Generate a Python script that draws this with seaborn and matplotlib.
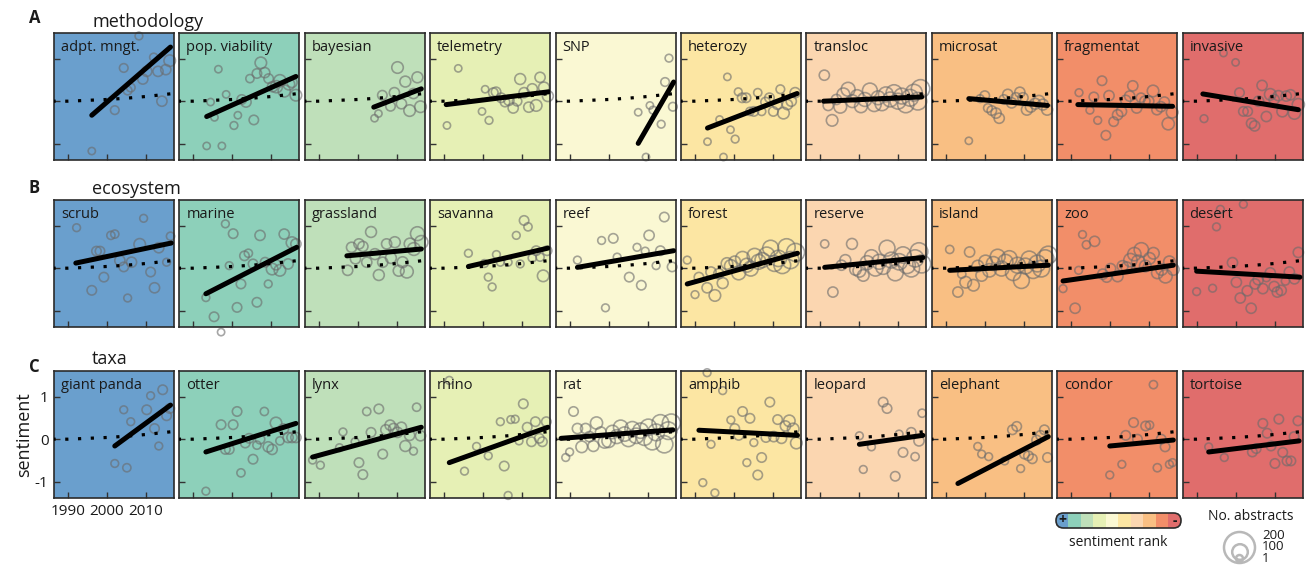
import numpy as np
import pandas as pd
import matplotlib
matplotlib.use("Agg")
import matplotlib.pyplot as plt
import seaborn as sns
from matplotlib.colors import ListedColormap
from matplotlib.patches import FancyBboxPatch, Circle

# ---- data: (year, sentiment, no. abstracts) ----
rank_colors = ["#6A9FCD", "#8DD0BA", "#BFE0BA", "#E6F0B5", "#FAF8D3",
               "#FCE6A3", "#FBD6B0", "#F9BF83", "#F28E69", "#E06D6C"]

row_titles = ["methodology", "ecosystem", "taxa"]
row_letters = ["A", "B", "C"]

methodology_terms = ["adpt. mngt.", "pop. viability", "bayesian", "telemetry", "SNP",
                     "heterozy", "transloc", "microsat", "fragmentat", "invasive"]
ecosystem_terms = ["scrub", "marine", "grassland", "savanna", "reef",
                   "forest", "reserve", "island", "zoo", "desert"]
taxa_terms = ["giant panda", "otter", "lynx", "rhino", "rat",
              "amphib", "leopard", "elephant", "condor", "tortoise"]

# overall trend (dotted)
global_years = [1986, 1990, 1995, 2000, 2005, 2010, 2015, 2018]
global_sent = [0.0, 0.0, 0.02, 0.04, 0.07, 0.11, 0.16, 0.19]

# per-term fitted trend (start year, end year, start value, end value)
methodology_trend_x0 = [1996.1, 1993.4, 2004.1, 1990.5, 2007.6, 1993.2, 1990.8, 1995.9, 1991.7, 1991.6]
methodology_trend_x1 = [2016.3, 2016.3, 2016.3, 2016.8, 2016.7, 2016.2, 2016.0, 2016.1, 2016.0, 2016.1]
methodology_trend_y0 = [-0.33, -0.36, -0.14, -0.08, -0.99, -0.63, 0.0, 0.06, -0.08, 0.17]
methodology_trend_y1 = [1.27, 0.58, 0.29, 0.22, 0.45, 0.18, 0.10, -0.10, -0.12, -0.20]

ecosystem_trend_x0 = [1992.0, 1993.2, 1997.2, 1996.2, 1992.0, 1988.0, 1991.1, 1991.0, 1987.9, 1990.0]
ecosystem_trend_x1 = [2016.5, 2016.5, 2016.3, 2016.6, 2016.7, 2016.3, 2016.3, 2016.3, 2016.2, 2016.5]
ecosystem_trend_y0 = [0.12, -0.60, 0.29, 0.04, 0.02, -0.37, 0.02, -0.05, -0.30, -0.07]
ecosystem_trend_y1 = [0.59, 0.49, 0.45, 0.47, 0.41, 0.35, 0.25, 0.07, 0.07, -0.21]

taxa_trend_x0 = [2002.0, 1993.2, 1988.4, 1991.3, 1987.8, 1991.0, 2000.0, 1993.1, 1999.9, 1993.1]
taxa_trend_x1 = [2016.3, 2016.3, 2016.3, 2016.6, 2016.5, 2016.3, 2016.3, 2016.3, 2016.2, 2016.3]
taxa_trend_y0 = [-0.16, -0.30, -0.42, -0.55, 0.02, 0.21, -0.12, -1.04, -0.16, -0.30]
taxa_trend_y1 = [0.80, 0.37, 0.28, 0.28, 0.22, 0.09, 0.09, 0.06, -0.02, -0.04]

adpt_mngt = [(1996.1, -1.17, 5), (2002.0, -0.21, 20), (2004.3, 0.78, 20), (2005.3, 0.25, 20),
             (2006.1, 0.32, 20), (2008.2, 1.53, 10), (2009.2, 0.52, 40), (2010.2, 0.70, 40),
             (2012.0, 1.03, 15), (2013.1, 0.70, 40), (2014.1, 0.0, 40), (2015.1, 0.74, 40),
             (2016.1, 0.95, 60)]
pop_viability = [(1993.4, -1.05, 5), (1994.4, -0.02, 5), (1995.4, -0.38, 5), (1996.4, 0.75, 5),
                 (1997.3, -1.05, 5), (1998.4, 0.16, 5), (2000.4, -0.57, 10), (2001.4, -0.33, 5),
                 (2002.4, 0.04, 30), (2003.5, -0.02, 40), (2004.5, 0.53, 15), (2005.5, -0.44, 30),
                 (2006.3, 0.65, 30), (2007.3, 0.90, 60), (2008.3, 0.67, 40), (2009.3, 0.53, 30),
                 (2010.3, 0.34, 40), (2011.3, 0.34, 70), (2012.2, 0.48, 70), (2013.3, 0.24, 70),
                 (2014.5, 0.40, 60), (2015.3, 0.44, 40), (2016.3, 0.14, 60)]
bayesian = [(2004.3, -0.40, 5), (2005.3, -0.29, 5), (2006.3, 0.14, 30), (2008.4, -0.12, 30),
            (2009.4, 0.20, 40), (2010.2, 0.79, 60), (2011.2, -0.06, 40), (2012.2, 0.46, 50),
            (2013.3, -0.22, 60), (2014.3, 0.18, 40), (2015.3, 0.56, 50), (2016.1, -0.13, 60)]
telemetry = [(1990.7, -0.57, 5), (1993.6, 0.77, 5), (1999.7, -0.24, 5), (2000.5, 0.28, 5),
             (2001.5, -0.45, 10), (2002.6, 0.20, 30), (2003.3, 0.22, 30), (2004.6, 0.08, 30),
             (2005.6, -0.02, 30), (2006.6, 0.02, 40), (2007.7, -0.16, 40), (2008.7, 0.0, 30),
             (2009.5, 0.52, 50), (2010.5, 0.20, 40), (2011.7, -0.14, 40), (2012.6, 0.29, 40),
             (2013.6, -0.10, 60), (2014.6, 0.56, 40), (2015.6, 0.32, 50), (2016.6, 0.12, 50)]
snp = [(2007.6, -0.26, 5), (2009.6, -1.31, 5), (2010.6, -0.10, 5), (2011.4, -0.21, 10),
       (2013.5, -0.54, 10), (2014.5, 0.45, 20), (2015.5, 1.01, 10), (2016.5, -0.13, 20)]
heterozy = [(1993.2, -0.95, 5), (1996.3, -0.43, 5), (1997.3, -1.31, 5), (1998.3, 0.57, 5),
            (1999.1, -0.67, 5), (2000.3, -0.89, 10), (2001.1, 0.22, 10), (2002.1, 0.08, 30),
            (2003.1, 0.08, 30), (2004.1, -0.24, 15), (2005.1, -0.24, 30), (2006.1, 0.20, 15),
            (2007.1, -0.24, 15), (2008.1, -0.02, 30), (2009.1, 0.08, 30), (2010.1, -0.24, 30),
            (2011.1, -0.08, 30), (2011.9, 0.28, 20), (2012.7, -0.28, 60), (2013.7, -0.08, 40),
            (2014.7, 0.0, 40), (2015.7, 0.20, 40)]
transloc = [(1991.0, 0.61, 40), (1992.0, -0.10, 40), (1993.0, -0.45, 60), (1994.1, 0.04, 40),
            (1995.1, -0.13, 80), (1995.9, 0.16, 80), (1997.1, 0.28, 100), (1998.2, 0.0, 80),
            (1999.4, 0.12, 80), (2000.4, -0.12, 80), (2001.4, 0.04, 100), (2002.7, 0.25, 120),
            (2003.8, -0.08, 100), (2004.8, 0.08, 100), (2005.8, -0.06, 100), (2006.8, 0.16, 120),
            (2007.9, 0.04, 120), (2008.9, 0.20, 140), (2009.9, 0.0, 140), (2010.9, 0.12, 140),
            (2011.9, -0.08, 150), (2013.0, 0.08, 160), (2014.0, 0.20, 160), (2015.0, 0.0, 180),
            (2015.7, 0.29, 200)]
microsat = [(1995.9, -0.93, 5), (1998.8, 0.06, 10), (2000.0, 0.13, 30), (2000.8, -0.16, 20),
            (2001.8, -0.22, 30), (2002.9, -0.28, 40), (2003.7, -0.40, 40), (2004.9, 0.04, 30),
            (2005.9, 0.16, 40), (2006.9, -0.04, 40), (2008.0, 0.08, 40), (2009.0, 0.21, 40),
            (2009.8, 0.08, 40), (2010.8, -0.20, 50), (2011.8, -0.13, 50), (2012.9, -0.06, 50),
            (2013.9, 0.0, 60), (2014.9, -0.08, 50), (2016.0, -0.20, 50)]
fragmentat = [(1992.0, 0.20, 10), (1994.8, -0.21, 10), (1995.8, 0.10, 30), (1996.8, -0.45, 10),
              (1997.9, 0.48, 30), (1998.9, -0.80, 30), (1999.7, 0.13, 40), (2000.9, -0.48, 30),
              (2001.9, -0.32, 40), (2002.9, -0.24, 40), (2004.0, 0.02, 40), (2005.0, 0.12, 40),
              (2005.8, 0.36, 40), (2006.8, -0.16, 40), (2007.9, 0.08, 30), (2008.9, 0.0, 40),
              (2009.9, 0.0, 40), (2011.0, 0.24, 60), (2012.0, -0.20, 40), (2013.0, -0.13, 40),
              (2013.9, -0.02, 40), (2014.9, -0.53, 70), (2015.9, -0.26, 60)]
invasive = [(1991.9, -0.41, 10), (1996.9, 1.13, 5), (2000.0, 0.91, 5), (2001.0, 0.20, 30),
            (2002.0, -0.24, 30), (2003.1, -0.24, 30), (2004.1, -0.52, 40), (2004.9, -0.58, 40),
            (2005.9, 0.0, 40), (2006.8, 0.37, 40), (2007.9, -0.36, 40), (2008.9, 0.16, 60),
            (2009.9, 0.04, 40), (2011.0, 0.13, 40), (2012.0, -0.24, 50), (2013.0, 0.12, 40),
            (2014.1, 0.15, 40), (2015.1, -0.28, 70), (2016.1, -0.08, 70)]

scrub = [(1992.2, 0.95, 10), (1996.1, -0.52, 30), (1997.3, 0.40, 30), (1998.2, 0.40, 30),
         (1999.2, -0.21, 30), (2001.0, 0.77, 15), (2002.0, 0.80, 15), (2003.3, 0.18, 40),
         (2004.3, 0.03, 30), (2005.3, -0.70, 10), (2006.3, 0.14, 40), (2008.4, 0.56, 60),
         (2009.4, 1.17, 10), (2011.2, -0.09, 30), (2012.2, -0.46, 40), (2013.3, 0.48, 40),
         (2015.3, 0.14, 10), (2016.3, 0.75, 15)]
marine = [(1993.2, -0.69, 10), (1995.3, -1.14, 30), (1997.1, -1.50, 5), (1998.2, 1.04, 10),
          (1999.2, 0.06, 10), (2000.2, 0.81, 30), (2001.2, -0.92, 30), (2002.2, -0.37, 30),
          (2003.1, 0.29, 30), (2004.1, 0.35, 15), (2005.3, 0.10, 30), (2006.3, -0.80, 30),
          (2007.1, 0.77, 40), (2008.4, 0.14, 30), (2009.2, -0.37, 10), (2010.2, -0.02, 60),
          (2011.2, 0.08, 40), (2012.2, -0.05, 60), (2013.3, 0.80, 40), (2014.3, 0.10, 40),
          (2015.3, 0.60, 60), (2016.3, 0.57, 40)]
grassland = [(1997.4, -0.05, 40), (1998.4, 0.49, 40), (1999.4, 0.22, 40), (2000.3, 0.57, 40),
             (2001.3, 0.51, 40), (2002.3, 0.14, 40), (2003.4, 0.85, 50), (2004.4, 0.33, 50),
             (2005.4, -0.16, 50), (2006.4, 0.14, 40), (2007.4, 0.57, 40), (2008.5, 0.24, 50),
             (2009.5, 0.61, 50), (2010.5, -0.06, 50), (2011.5, 0.14, 50), (2012.6, -0.08, 80),
             (2013.4, 0.57, 60), (2014.4, 0.45, 80), (2015.3, 0.81, 100), (2016.3, 0.61, 90)]
savanna = [(1996.2, 0.35, 10), (2000.3, 0.11, 10), (2001.3, -0.21, 10), (2002.3, -0.44, 10),
           (2003.4, 0.32, 10), (2004.4, 0.14, 10), (2006.4, 0.14, 10), (2008.5, 0.77, 10),
           (2009.5, 0.10, 10), (2010.5, 1.12, 30), (2011.5, 0.97, 15), (2012.6, 0.24, 15),
           (2013.6, 0.41, 30), (2014.6, 0.26, 15), (2015.4, -0.18, 60), (2016.4, 0.41, 30)]
reef = [(1992.0, 0.19, 10), (1998.2, 0.65, 10), (1999.2, -0.93, 10), (2001.2, 0.70, 30),
        (2002.2, 0.26, 10), (2005.3, -0.21, 30), (2007.3, 0.49, 10), (2008.4, -0.40, 30),
        (2009.4, 0.40, 10), (2010.4, 0.77, 40), (2012.2, 0.06, 10), (2013.3, 0.41, 30),
        (2014.3, 1.20, 30), (2016.3, 0.03, 30)]
forest = [(1988.0, 0.19, 10), (1990.0, -0.62, 10), (1991.0, -0.21, 30), (1993.1, -0.46, 40),
          (1994.1, -0.09, 40), (1995.1, -0.64, 60), (1996.1, -0.13, 40), (1997.1, -0.35, 50),
          (1998.2, 0.11, 60), (1999.2, 0.05, 80), (2000.2, 0.15, 60), (2001.2, -0.11, 100),
          (2002.2, 0.23, 100), (2003.3, 0.07, 100), (2004.3, -0.01, 120), (2005.3, 0.29, 120),
          (2006.3, 0.15, 120), (2007.3, 0.19, 120), (2008.4, 0.31, 140), (2009.4, 0.47, 140),
          (2010.4, 0.11, 140), (2011.4, 0.23, 150), (2012.4, 0.07, 160), (2013.5, 0.49, 170),
          (2014.5, 0.19, 170), (2015.8, 0.37, 190)]
reserve = [(1991.1, 0.57, 15), (1993.2, -0.56, 40), (1995.4, 0.07, 40), (1996.4, 0.19, 50),
           (1998.1, 0.57, 50), (1999.0, -0.03, 60), (2000.0, -0.06, 80), (2001.0, -0.17, 60),
           (2002.0, 0.13, 100), (2003.1, 0.27, 100), (2004.1, -0.01, 120), (2005.1, 0.15, 120),
           (2006.1, 0.03, 120), (2007.1, 0.47, 140), (2008.2, 0.19, 140), (2009.2, -0.11, 140),
           (2010.2, 0.15, 150), (2011.2, 0.31, 150), (2012.2, 0.07, 160), (2013.3, -0.01, 160),
           (2014.3, 0.23, 170), (2015.3, 0.39, 180), (2016.0, 0.10, 190)]
island = [(1991.0, 0.44, 15), (1993.1, -0.56, 40), (1994.1, -0.14, 15), (1995.1, -0.33, 60),
          (1996.1, 0.38, 40), (1997.1, -0.40, 60), (1998.2, 0.05, 60), (1999.2, -0.17, 60),
          (2000.2, 0.15, 90), (2001.2, -0.05, 90), (2002.2, 0.11, 100), (2003.3, 0.27, 120),
          (2004.3, -0.01, 120), (2005.3, 0.15, 120), (2006.3, 0.23, 130), (2007.3, -0.11, 130),
          (2008.4, 0.07, 140), (2009.4, -0.29, 140), (2010.4, 0.05, 140), (2011.4, 0.21, 150),
          (2012.4, -0.05, 150), (2013.5, 0.11, 160), (2014.5, -0.01, 160), (2015.5, 0.23, 170),
          (2016.3, 0.31, 180)]
zoo = [(1987.9, -0.48, 10), (1991.0, -0.94, 40), (1991.9, -0.05, 10), (1992.9, 0.79, 10),
       (1993.9, 0.55, 15), (1996.0, 0.63, 40), (1998.1, -0.14, 40), (1999.1, -0.21, 40),
       (2000.1, -0.01, 40), (2001.9, -0.19, 50), (2003.2, 0.05, 50), (2004.2, 0.02, 50),
       (2005.2, 0.19, 90), (2006.2, 0.33, 90), (2007.2, 0.15, 90), (2008.0, 0.43, 110),
       (2009.0, 0.05, 60), (2010.1, 0.23, 60), (2011.1, 0.35, 60), (2012.1, -0.11, 60),
       (2013.2, -0.03, 60), (2014.2, -0.19, 90), (2015.2, 0.15, 60), (2016.2, -0.03, 60)]
desert = [(1990.0, -0.55, 10), (1994.1, -0.47, 10), (1995.1, 0.97, 10), (1996.1, 1.38, 10),
          (1999.2, 0.13, 40), (2000.2, -0.33, 40), (2001.2, -0.70, 40), (2002.0, 1.50, 10),
          (2003.0, -0.53, 40), (2004.0, -0.94, 40), (2005.0, -0.37, 40), (2005.8, -0.27, 40),
          (2007.0, -0.48, 40), (2007.9, -0.22, 15), (2008.9, -0.11, 40), (2009.9, -0.43, 40),
          (2010.7, -0.56, 40), (2011.7, -0.52, 40), (2012.8, -0.30, 15), (2013.8, -0.09, 40),
          (2015.1, -0.25, 40), (2016.1, 0.37, 40)]

giant_panda = [(2002.0, -0.57, 10), (2004.3, 0.69, 10), (2005.1, -0.67, 15), (2006.1, 0.41, 10),
               (2010.2, 0.69, 30), (2011.2, 1.02, 10), (2012.2, 0.25, 30), (2013.3, -0.16, 10),
               (2014.3, 1.16, 30), (2015.3, 0.55, 30), (2016.1, 0.72, 30)]
otter = [(1993.2, -1.22, 10), (1997.1, 0.34, 30), (1998.2, -0.24, 30), (1999.2, -0.24, 30),
         (2000.2, 0.34, 30), (2001.2, 0.65, 30), (2002.2, -0.79, 15), (2003.3, -0.09, 30),
         (2004.3, 0.02, 30), (2005.3, -0.47, 30), (2006.3, -0.14, 15), (2007.1, 0.0, 30),
         (2008.2, 0.65, 15), (2009.2, -0.18, 40), (2010.2, -0.24, 40), (2011.2, 0.38, 60),
         (2012.2, -0.04, 15), (2013.1, 0.24, 40), (2014.3, 0.04, 40), (2015.3, 0.04, 40),
         (2016.3, 0.04, 40)]
lynx = [(1988.4, -0.49, 10), (1990.4, -0.61, 10), (1995.3, -0.20, 10), (1996.2, 0.17, 10),
        (1999.3, -0.06, 10), (2000.3, -0.55, 30), (2001.3, -0.83, 30), (2002.3, 0.65, 15),
        (2003.4, 0.16, 30), (2005.4, 0.71, 30), (2006.4, -0.35, 30), (2007.2, 0.22, 40),
        (2008.3, 0.33, 40), (2009.2, 0.25, 40), (2010.2, 0.16, 40), (2011.2, 0.28, 40),
        (2012.2, -0.16, 50), (2013.3, 0.09, 40), (2014.3, -0.28, 10), (2015.1, 0.75, 15),
        (2016.1, 0.08, 40)]
rhino = [(1991.3, 1.38, 10), (1995.2, -0.75, 10), (1998.3, -0.17, 10), (2001.3, -0.39, 10),
         (2004.4, 0.41, 10), (2005.4, -0.63, 30), (2006.4, -1.32, 10), (2007.1, 0.46, 10),
         (2008.2, 0.47, 10), (2009.2, -0.04, 10), (2010.3, 0.83, 30), (2011.3, 0.28, 30),
         (2012.4, -0.06, 30), (2013.4, 0.41, 30), (2014.4, 0.02, 30), (2015.2, -0.06, 30),
         (2016.2, 0.41, 30)]
rat = [(1989.0, -0.43, 10), (1990.0, -0.30, 10), (1991.0, 0.65, 30), (1992.0, 0.25, 40),
       (1993.1, -0.18, 60), (1994.1, 0.25, 40), (1995.1, 0.06, 40), (1996.1, -0.16, 50),
       (1996.9, 0.38, 70), (1998.0, 0.16, 50), (1999.0, -0.06, 80), (2000.0, -0.04, 90),
       (2001.0, 0.17, 90), (2002.1, 0.06, 100), (2003.1, 0.28, 110), (2004.1, 0.12, 110),
       (2005.1, 0.0, 120), (2006.1, 0.24, 120), (2007.1, 0.08, 130), (2008.2, 0.20, 130),
       (2009.2, 0.04, 140), (2010.2, 0.28, 150), (2011.2, -0.06, 150), (2012.2, 0.16, 160),
       (2013.3, 0.38, 160), (2014.3, -0.12, 170), (2015.3, 0.20, 180), (2016.1, 0.38, 190)]
amphib = [(1992.0, -1.02, 10), (1993.1, 1.56, 10), (1994.1, -0.12, 10), (1995.1, -1.26, 10),
          (1997.1, 1.14, 10), (1999.2, 0.45, 10), (2000.2, 0.25, 30), (2001.2, 0.09, 30),
          (2002.2, 0.65, 30), (2003.3, -0.55, 10), (2004.1, 0.49, 30), (2005.1, -0.08, 10),
          (2006.1, -0.84, 30), (2007.1, -0.43, 30), (2008.2, 0.04, 30), (2009.2, 0.87, 30),
          (2010.2, 0.06, 40), (2011.2, 0.46, 30), (2012.2, 0.02, 40), (2013.2, 0.31, 40),
          (2014.2, 0.43, 60), (2015.2, 0.24, 60), (2016.0, -0.09, 60)]
leopard = [(2000.0, 0.08, 10), (2001.0, -0.71, 10), (2003.1, -0.18, 10), (2006.1, 0.87, 30),
           (2007.1, 0.72, 30), (2009.2, -0.87, 30), (2010.2, 0.12, 10), (2011.2, -0.31, 30),
           (2013.3, 0.16, 30), (2014.3, -0.41, 15), (2015.3, -0.04, 40), (2016.1, 0.61, 15)]
elephant = [(1998.2, -0.17, 10), (1999.2, -0.35, 10), (2001.0, -0.41, 10), (2005.1, -0.51, 10),
            (2007.1, 0.22, 30), (2008.2, 0.30, 30), (2009.2, -0.69, 10), (2010.2, -0.35, 30),
            (2011.2, -0.39, 30), (2012.2, -0.46, 30), (2013.3, -0.02, 30), (2014.3, 0.09, 30),
            (2015.3, 0.22, 30), (2016.1, -0.43, 30)]
condor = [(1999.9, -0.84, 10), (2003.0, -0.59, 10), (2004.0, 0.09, 30), (2006.0, 0.39, 30),
          (2007.0, 0.0, 30), (2009.1, 0.31, 30), (2010.1, 0.33, 15), (2011.1, 1.28, 15),
          (2012.1, -0.67, 15), (2013.1, 0.0, 30), (2014.1, -0.18, 30), (2015.2, -0.59, 10),
          (2016.0, -0.55, 10)]
tortoise = [(1993.1, -0.18, 10), (1997.1, -0.43, 10), (2004.3, -0.30, 30), (2005.3, -0.22, 30),
            (2007.0, 0.37, 30), (2008.1, 0.14, 30), (2009.1, -0.16, 30), (2010.1, -0.57, 30),
            (2011.1, 0.47, 30), (2012.1, -0.31, 30), (2013.2, -0.51, 30), (2014.2, -0.51, 30),
            (2015.0, 0.06, 30), (2016.0, 0.43, 30)]

# ---- tables built from the lists above ----
row_points = [
    [adpt_mngt, pop_viability, bayesian, telemetry, snp,
     heterozy, transloc, microsat, fragmentat, invasive],
    [scrub, marine, grassland, savanna, reef, forest, reserve, island, zoo, desert],
    [giant_panda, otter, lynx, rhino, rat, amphib, leopard, elephant, condor, tortoise],
]
row_terms = [methodology_terms, ecosystem_terms, taxa_terms]
row_trends = [
    (methodology_trend_x0, methodology_trend_x1, methodology_trend_y0, methodology_trend_y1),
    (ecosystem_trend_x0, ecosystem_trend_x1, ecosystem_trend_y0, ecosystem_trend_y1),
    (taxa_trend_x0, taxa_trend_x1, taxa_trend_y0, taxa_trend_y1),
]

records = []
for r, panels in enumerate(row_points):
    for c, pts in enumerate(panels):
        for yr, s, n in pts:
            records.append({"row": r, "col": c, "year": yr, "sentiment": s, "n": n})
df = pd.DataFrame(records)
global_df = pd.DataFrame({"year": global_years, "sentiment": global_sent})

# ---- figure ----
sns.set_theme(style="white")
plt.rcParams['font.family'] = ['Open Sans', 'DejaVu Sans']
plt.rcParams['axes.unicode_minus'] = False

W, H = 1306, 565
fig = plt.figure(figsize=(W / 100, H / 100), dpi=100)

row_top = [33, 200, 371]
panel_w, panel_h = 120, 127
col_step = 125.4
left0 = 54

for r in range(3):
    tx0, tx1, ty0, ty1 = row_trends[r]
    for c in range(10):
        left = left0 + col_step * c
        ax = fig.add_axes([left / W, 1 - (row_top[r] + panel_h) / H, panel_w / W, panel_h / H])
        ax.set_facecolor(rank_colors[c])
        sub = df[(df["row"] == r) & (df["col"] == c)]

        sns.scatterplot(data=sub, x="year", y="sentiment", size="n", sizes=(24, 175),
                        size_norm=(1, 200), facecolor="none",
                        edgecolor=(0.42, 0.42, 0.42, 0.6), linewidth=1.2,
                        legend=False, ax=ax, clip_on=False, zorder=2)
        sns.lineplot(data=global_df, x="year", y="sentiment", color="black", lw=2.3,
                     dashes=False, ax=ax, zorder=3).lines[-1].set_dashes([1, 3])
        ax.plot([tx0[c], tx1[c]], [ty0[c], ty1[c]], color="black", lw=3.6,
                solid_capstyle="round", zorder=4)

        ax.set_xlim(1986.4, 2017.2)
        ax.set_ylim(-1.38, 1.6)
        ax.set_xticks([1990, 2000, 2010])
        ax.set_yticks([-1, 0, 1])
        ax.set_xlabel("")
        ax.set_ylabel("")
        first = (r == 2 and c == 0)
        ax.tick_params(direction="in", length=4, width=1, color="#333333",
                       labelsize=11, labelcolor="#1a1a1a", pad=4,
                       labelbottom=first, labelleft=first,
                       bottom=True, left=True)
        for sp in ax.spines.values():
            sp.set_color("#2b2b2b")
            sp.set_linewidth(1.2)
        ax.text(0.058, 0.945, row_terms[r][c], transform=ax.transAxes,
                ha="left", va="top", fontsize=10.5, color="#1a1a1a", zorder=5)
        if first:
            ax.set_ylabel("sentiment", fontsize=13, labelpad=1, color="#1a1a1a")

# ---- overlay in pixel units for titles and legends ----
ov = fig.add_axes([0, 0, 1, 1], zorder=10)
ov.set_xlim(0, W)
ov.set_ylim(H, 0)
ov.axis("off")

title_base = [27, 194, 364]
letter_base = [23, 193, 372]
for r in range(3):
    ov.text(92, title_base[r], row_titles[r], fontsize=13, va="baseline", ha="left",
            color="#1a1a1a")
    ov.text(29, letter_base[r], row_letters[r], fontsize=12, fontweight="bold",
            va="baseline", ha="left", color="#1a1a1a")

# sentiment rank bar
bx0, by0, bw, bh = 1056, 513, 125, 15
box = FancyBboxPatch((bx0, by0), bw, bh, boxstyle="round,pad=0,rounding_size=7.5",
                     facecolor="none", edgecolor="#2b2b2b", lw=1.2, zorder=3)
ov.add_patch(box)
im = ov.imshow(np.arange(10)[None, :], cmap=ListedColormap(rank_colors),
               extent=[bx0, bx0 + bw, by0 + bh, by0], aspect="auto",
               interpolation="nearest", zorder=2)
im.set_clip_path(box)
ov.set_xlim(0, W)
ov.set_ylim(H, 0)
ov.text(bx0 + 6, by0 + bh / 2, "+", fontsize=10, fontweight="bold", ha="center",
        va="center", color="#1a1a1a", zorder=4)
ov.text(bx0 + bw - 6, by0 + bh / 2, "-", fontsize=10, fontweight="bold", ha="center",
        va="center", color="#1a1a1a", zorder=4)
ov.text(bx0 + bw / 2, 543, "sentiment rank", fontsize=10, ha="center", va="center",
        color="#1a1a1a")

# abstracts size legend
ov.text(1251, 517, "No. abstracts", fontsize=10, ha="center", va="center", color="#1a1a1a")
for (cx, cy, rad) in [(1239.5, 547.5, 15.5), (1240, 552, 7.8), (1239.5, 558.5, 3.5)]:
    ov.add_patch(Circle((cx, cy), rad, fill=False, ec="#b8b8b8", lw=1.8, clip_on=False))
ov.text(1262, 547, "200\n100\n1", fontsize=9.5, ha="left", va="center",
        linespacing=0.82, color="#1a1a1a")

fig.savefig("out.png", dpi=100)
plt.close(fig)
